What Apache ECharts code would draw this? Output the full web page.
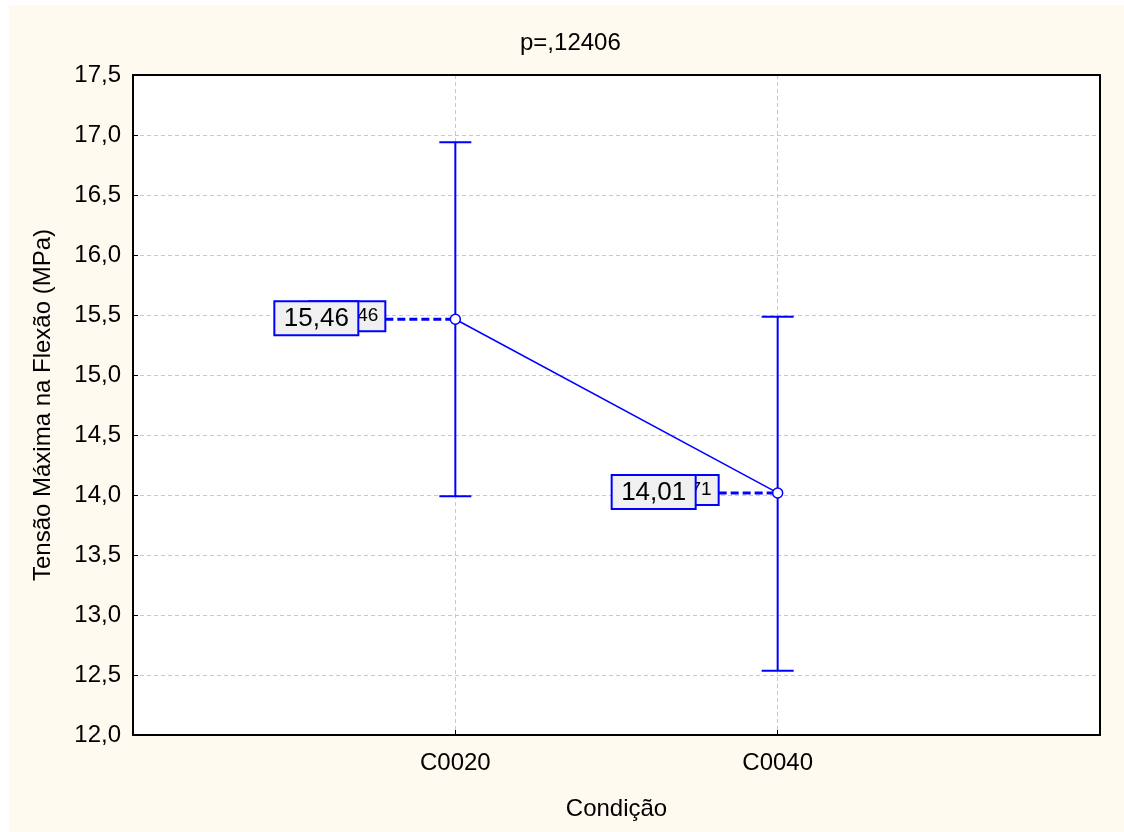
<!DOCTYPE html>
<html>
<head>
<meta charset="utf-8">
<script src="https://cdn.jsdelivr.net/npm/echarts@6/dist/echarts.min.js"></script>
<style>
html,body{margin:0;padding:0;background:#ffffff;}
#chart{width:1124px;height:832px;}
</style>
</head>
<body>
<div id="chart"></div>
<script>
const categories = ['C0020', 'C0040'];
const means = [15.4646, 14.0171];
const lowerBounds = [13.99, 12.535];
const upperBounds = [16.94, 15.485];
const meanLabels = ['15,46', '14,01'];
const fullLabels = ['15,4646', '14,0171'];
const titleText = 'p=,12406';
const xAxisTitle = 'Condição';
const yAxisTitle = 'Tensão Máxima na Flexão (MPa)';

// label box geometry (style only)
const bigBoxRight = [97, 82];
const smallBoxRight = [70, 59];

const FONT = '"Liberation Sans", Arial, sans-serif';
const BLUE = '#0000ff';

const chart = echarts.init(document.getElementById('chart'), null, {renderer: 'canvas'});

const pointData = categories.map((c, i) => [i + 1, means[i]]);
const barData = categories.map((c, i) => [i + 1, means[i], lowerBounds[i], upperBounds[i]]);

const frameAxis = {
  show: true,
  axisLine: {show: true, onZero: false, lineStyle: {color: '#000', width: 2}},
  axisTick: {show: false},
  axisLabel: {show: false},
  splitLine: {show: false}
};

const option = {
  backgroundColor: '#ffffff',
  animation: false,
  graphic: [{
    type: 'rect', z: -10, silent: true,
    shape: {x: 9, y: 5, width: 1115, height: 827},
    style: {fill: '#fffaf0'}
  }],
  title: {
    text: titleText,
    left: 515,
    top: 26,
    textStyle: {fontFamily: FONT, fontSize: 24, fontWeight: 'normal', color: '#000'}
  },
  grid: {
    left: 133, top: 75, width: 967, height: 660,
    show: true, backgroundColor: '#ffffff', borderColor: '#000', borderWidth: 0
  },
  xAxis: [{
    type: 'value', min: 0, max: 3, interval: 1,
    name: xAxisTitle, nameLocation: 'middle', nameGap: 62,
    nameTextStyle: {fontFamily: FONT, fontSize: 24, color: '#000'},
    axisLine: {show: true, onZero: false, lineStyle: {color: '#000', width: 2}},
    axisTick: {show: true, inside: true, length: 5, lineStyle: {color: '#000'}},
    axisLabel: {
      fontFamily: FONT, fontSize: 24, color: '#000', margin: 16,
      formatter: v => (v >= 1 && v <= categories.length && Number.isInteger(v)) ? categories[v - 1] : ''
    },
    splitLine: {show: true, lineStyle: {color: '#c8c8c8', type: [4, 3], width: 1}}
  }, Object.assign({type: 'value', min: 0, max: 3, position: 'top'}, frameAxis)],
  yAxis: [{
    type: 'value', min: 12, max: 17.5, interval: 0.5,
    name: yAxisTitle, nameLocation: 'middle', nameGap: 78, nameRotate: 90,
    nameTextStyle: {fontFamily: FONT, fontSize: 24, color: '#000'},
    axisLine: {show: true, onZero: false, lineStyle: {color: '#000', width: 2}},
    axisTick: {show: true, inside: true, length: 5, lineStyle: {color: '#000'}},
    axisLabel: {
      fontFamily: FONT, fontSize: 24, color: '#000', margin: 12,
      formatter: v => v.toFixed(1).replace('.', ',')
    },
    splitLine: {show: true, lineStyle: {color: '#c8c8c8', type: [4, 3], width: 1}}
  }, Object.assign({type: 'value', min: 12, max: 17.5, position: 'right'}, frameAxis)],
  series: [
    {
      type: 'custom',
      z: 3,
      data: barData,
      renderItem: function (params, api) {
        const i = params.dataIndex;
        const x = api.value(0);
        const pM = api.coord([x, api.value(1)]);
        const pLo = api.coord([x, api.value(2)]);
        const pHi = api.coord([x, api.value(3)]);
        const cap = 16;
        const lineStyle = {stroke: BLUE, lineWidth: 2, fill: null};
        const bRight = pM[0] - bigBoxRight[i];
        const sRight = pM[0] - smallBoxRight[i];
        const boxTop = pM[1] - 18;
        return {
          type: 'group',
          children: [
            {type: 'line', shape: {x1: pLo[0], y1: pLo[1], x2: pHi[0], y2: pHi[1]}, style: lineStyle},
            {type: 'line', shape: {x1: pLo[0] - cap, y1: pLo[1], x2: pLo[0] + cap, y2: pLo[1]}, style: lineStyle},
            {type: 'line', shape: {x1: pHi[0] - cap, y1: pHi[1], x2: pHi[0] + cap, y2: pHi[1]}, style: lineStyle},
            {type: 'line', shape: {x1: sRight, y1: pM[1], x2: pM[0] - 5, y2: pM[1]},
              style: {stroke: BLUE, lineWidth: 3, lineDash: [8, 4]}},
            {type: 'rect', shape: {x: sRight - 76, y: boxTop, width: 76, height: 30},
              style: {fill: '#f0f0f0', stroke: BLUE, lineWidth: 2}},
            {type: 'text', x: sRight - 7, y: boxTop + 15,
              style: {text: fullLabels[i], fontFamily: FONT, fontSize: 19, fill: '#000', align: 'right', verticalAlign: 'middle'}},
            {type: 'rect', shape: {x: bRight - 84, y: boxTop, width: 84, height: 34},
              style: {fill: '#f0f0f0', stroke: BLUE, lineWidth: 2}},
            {type: 'text', x: bRight - 42, y: boxTop + 18,
              style: {text: meanLabels[i], fontFamily: FONT, fontSize: 26, fill: '#000', align: 'center', verticalAlign: 'middle'}}
          ]
        };
      }
    },
    {
      type: 'line',
      z: 4,
      data: pointData,
      symbol: 'circle',
      symbolSize: 10,
      itemStyle: {color: '#ffffff', borderColor: BLUE, borderWidth: 1.5},
      lineStyle: {color: BLUE, width: 1.5}
    }
  ]
};
chart.setOption(option);
</script>
</body>
</html>
